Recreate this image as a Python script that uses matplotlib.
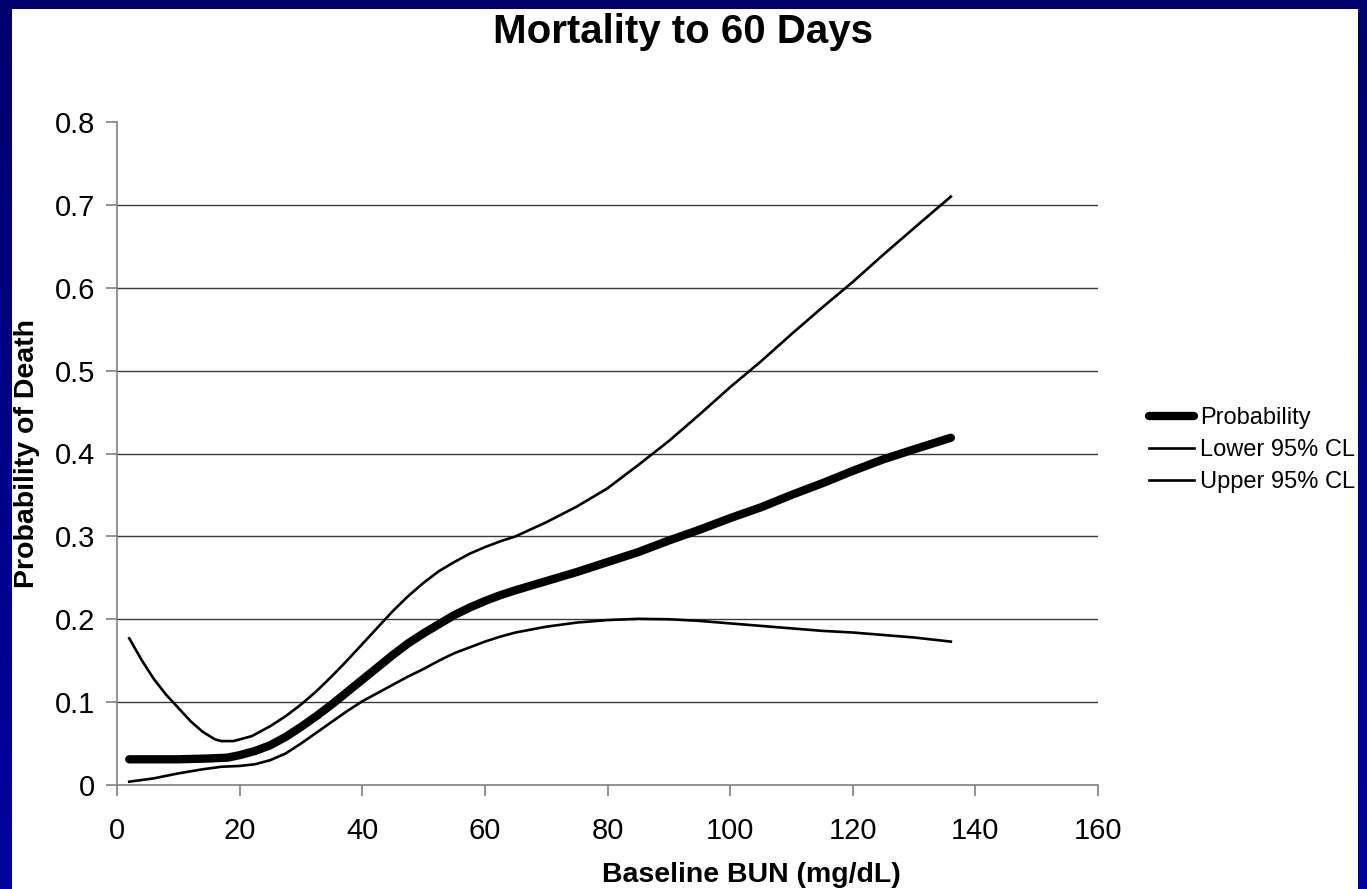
import numpy as np
import matplotlib
matplotlib.use("Agg")
import matplotlib.pyplot as plt

# Baseline BUN (mg/dL) and modelled probability of death at 60 days
bun_prob = [2, 5, 10, 15, 18, 20, 22.5, 25, 27.5, 30, 32.5, 35, 37.5, 40, 42.5,
            45, 47.5, 50, 52.5, 55, 57.5, 60, 62.5, 65, 70, 75, 80, 85, 90,
            95, 100, 105, 110, 115, 120, 125, 130, 136]
prob = [0.031, 0.031, 0.031, 0.032, 0.033, 0.036, 0.041, 0.048, 0.058, 0.070,
        0.083, 0.097, 0.112, 0.127, 0.142, 0.157, 0.171, 0.183, 0.194, 0.205,
        0.214, 0.222, 0.229, 0.235, 0.246, 0.257, 0.269, 0.281, 0.295, 0.308,
        0.322, 0.335, 0.350, 0.364, 0.379, 0.393, 0.405, 0.419]

bun_lower = [2, 6, 10, 14, 17, 20, 22.5, 25, 27.5, 30, 32.5, 35, 37.5, 40, 42.5,
             45, 47.5, 50, 52.5, 55, 57.5, 60, 62.5, 65, 70, 75, 80, 85, 90,
             95, 100, 105, 110, 115, 120, 125, 130, 136]
lower = [0.004, 0.008, 0.014, 0.019, 0.022, 0.023, 0.025, 0.030, 0.038, 0.050,
         0.063, 0.076, 0.089, 0.101, 0.111, 0.121, 0.131, 0.140, 0.150, 0.159,
         0.166, 0.173, 0.179, 0.184, 0.191, 0.196, 0.199, 0.2005, 0.200, 0.198,
         0.195, 0.192, 0.189, 0.186, 0.184, 0.181, 0.178, 0.173]

bun_upper = [2, 4, 6, 8, 10, 12, 14, 16, 17, 19, 22, 25, 27.5, 30, 32.5, 35,
             37.5, 40, 42.5, 45, 47.5, 50, 52.5, 55, 57.5, 60, 62.5, 65, 70,
             75, 80, 85, 90, 95, 100, 105, 110, 115, 120, 125, 130, 136]
upper = [0.177, 0.151, 0.128, 0.109, 0.093, 0.077, 0.064, 0.055, 0.053, 0.053,
         0.059, 0.071, 0.083, 0.097, 0.113, 0.131, 0.150, 0.170, 0.190, 0.210,
         0.228, 0.244, 0.258, 0.269, 0.279, 0.287, 0.294, 0.300, 0.317, 0.336,
         0.358, 0.386, 0.415, 0.447, 0.480, 0.511, 0.544, 0.576, 0.607, 0.640,
         0.672, 0.710]

x_ticks = [0, 20, 40, 60, 80, 100, 120, 140, 160]
y_ticks = [0, 0.1, 0.2, 0.3, 0.4, 0.5, 0.6, 0.7, 0.8]
y_tick_labels = ["0", "0.1", "0.2", "0.3", "0.4", "0.5", "0.6", "0.7", "0.8"]

plt.rcParams["font.family"] = ["Liberation Sans", "DejaVu Sans"]

W, H = 1367, 889
fig = plt.figure(figsize=(W / 100, H / 100), dpi=100, facecolor="white")

# plot area in pixels: x 117..1098, y 122..785
ax = fig.add_axes([117 / W, 1 - 785 / H, (1098 - 117) / W, (785 - 122) / H])
ax.plot(bun_prob, prob, color="black", lw=6, solid_capstyle="round",
        solid_joinstyle="round", label="Probability", zorder=3)
ax.plot(bun_lower, lower, color="black", lw=1.9, solid_joinstyle="round",
        label="Lower 95% CL", zorder=3)
ax.plot(bun_upper, upper, color="black", lw=1.9, solid_joinstyle="round",
        label="Upper 95% CL", zorder=3)

ax.set_xlim(0, 160)
ax.set_ylim(0, 0.8)
ax.set_xticks(x_ticks)
ax.set_yticks(y_ticks)
ax.set_yticklabels(y_tick_labels)
ax.tick_params(axis="both", labelsize=21, color="#808080", width=1.2, length=8, direction="out")
ax.tick_params(axis="x", pad=15)
ax.tick_params(axis="y", pad=8)

for side in ("top", "right"):
    ax.spines[side].set_visible(False)
for side in ("left", "bottom"):
    ax.spines[side].set_color("#808080")
    ax.spines[side].set_linewidth(1.2)

ax.yaxis.grid(True, color="#3a3a3a", lw=1.0)
ax.set_axisbelow(True)
ax.get_ygridlines()[-1].set_visible(False)
ax.get_ygridlines()[0].set_visible(False)

fig.text(683 / W, 1 - 43 / H, "Mortality to 60 Days", fontsize=29, fontweight="bold",
         ha="center", va="baseline")
fig.text(751 / W, 1 - 882 / H, "Baseline BUN (mg/dL)", fontsize=20.5, fontweight="bold",
         ha="center", va="baseline")
fig.text(34 / W, 1 - 454 / H, "Probability of Death", fontsize=20.5, fontweight="bold",
         rotation=90, ha="center", va="baseline", rotation_mode="anchor")

handles, labels = ax.get_legend_handles_labels()
fig.legend(handles, labels, loc="center left", bbox_to_anchor=(1149 / W, 1 - 450 / H),
           frameon=False, borderpad=0, borderaxespad=0, handlelength=1.9,
           handletextpad=0.25, labelspacing=0.42, fontsize=17)

# blue slide frame drawn over everything (clips the legend on the right)
top_c = np.array([0, 0, 108]) / 255
bot_c = np.array([0, 0, 158]) / 255
frame = np.zeros((H, W, 4))
t = np.linspace(0, 1, H)[:, None]
frame[:, :, :3] = (top_c + (bot_c - top_c) * t[..., None])
frame[:, :, 3] = 1.0
frame[9:, 12:1358, 3] = 0.0
ov = fig.add_axes([0, 0, 1, 1], zorder=10)
ov.imshow(frame, aspect="auto", interpolation="nearest")
ov.axis("off")

fig.savefig("out.png", dpi=100, facecolor="white")
